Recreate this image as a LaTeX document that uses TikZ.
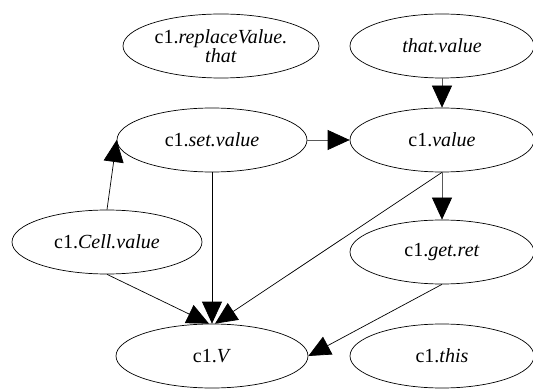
\documentclass[tikz,border=0pt]{standalone}
\usepackage{fontspec}
\setmainfont{Liberation Serif}
\usetikzlibrary{shapes.geometric,arrows.meta}
\tikzset{
  ell/.style={draw=black,line width=0.7pt,ellipse,inner sep=0pt,minimum height=64pt,
    font=\fontsize{20}{21}\selectfont,align=center},
  conn/.style={line width=0.7pt,-{Triangle[length=22pt,width=20pt,color=black,fill=black]}},
  gconn/.style={conn,draw=black!65}
}
\begin{document}
\begin{tikzpicture}[x=1pt,y=-1pt]
\useasboundingbox[fill=white] (0,0) rectangle (533,390);
\node[ell,minimum width=196pt] (rv) at (221,46) {c1.\textit{replaceValue.}\\[-2pt]\textit{that}};
\node[ell,minimum width=184pt] (tv) at (442,46) {\textit{that.value}};
\node[ell,minimum width=190pt] (sv) at (212,140) {c1.\textit{set.value}};
\node[ell,minimum width=184pt] (cv) at (442,140) {c1.\textit{value}};
\node[ell,minimum width=190pt] (cell) at (107,242) {c1.\textit{Cell.value}};
\node[ell,minimum width=184pt] (gr) at (442,252) {c1.\textit{get.ret}};
\node[ell,minimum width=192pt] (V) at (212,356) {c1.\textit{V}};
\node[ell,minimum width=184pt] (this) at (442,356) {c1.\textit{this}};
\draw[gconn] (tv.south) -- (cv.north);
\draw[gconn] (sv.east) -- (cv.west);
\draw[conn] (cell.north) -- (sv.west);
\draw[conn] (sv.south) -- (V.north);
\draw[conn] (cell.south) -- ([xshift=-3pt]V.north);
\draw[conn] (cv.south) -- ([xshift=3pt]V.north);
\draw[gconn] (cv.south) -- (gr.north);
\draw[conn] (gr.south) -- (V.east);
\end{tikzpicture}
\end{document}
